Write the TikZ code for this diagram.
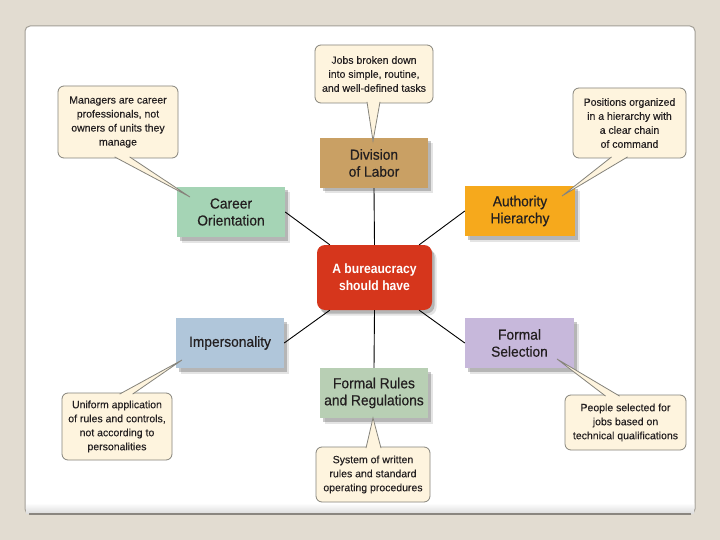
\documentclass[tikz,border=0pt]{standalone}
\usepackage{fontspec}
\setmainfont{Liberation Sans}
\newfontfamily\labelfont{Liberation Sans}[FakeBold=0.5,FakeStretch=0.95]
\newfontfamily\hubfont{Liberation Sans}[FakeStretch=0.9]
\newfontfamily\calfont{Liberation Sans}[FakeBold=0.25]
\usetikzlibrary{shadows,calc}
\definecolor{bgc}{HTML}{E2DCD1}
\definecolor{panelline}{HTML}{A29E96}
\definecolor{divc}{HTML}{C9A064}
\definecolor{carc}{HTML}{A5D4B5}
\definecolor{autc}{HTML}{F6A91C}
\definecolor{cenc}{HTML}{D6361C}
\definecolor{impc}{HTML}{B0C6DA}
\definecolor{selc}{HTML}{C7B8DB}
\definecolor{rulc}{HTML}{B8CFB4}
\definecolor{calfill}{HTML}{FEF4DE}
\definecolor{calline}{HTML}{85837B}
\definecolor{txt}{HTML}{231F20}
\tikzset{
  shade2/.style={drop shadow={shadow xshift=2.5pt,shadow yshift=-3.5pt,opacity=.30,fill=black!70},
                 drop shadow={shadow xshift=4.5pt,shadow yshift=-5.5pt,opacity=.15,fill=black!70}},
  box/.style={rectangle, shade2, minimum width=108, minimum height=50, inner sep=0pt,
              align=center, text=txt, font=\labelfont\fontsize{14.5}{17}\selectfont},
  hubbox/.style={rectangle, rounded corners=8pt, shade2, fill=cenc, minimum width=115, minimum height=65,
              inner sep=0pt, align=center, text=white, font=\hubfont\bfseries\fontsize{13.5}{17}\selectfont},
  callout/.style={rectangle, rounded corners=6pt, draw=calline, fill=calfill, line width=0.8pt,
              inner sep=0pt, align=center, text=txt, font=\calfont\fontsize{10.5}{14}\selectfont},
  tail/.style={draw=calline, fill=calfill, line width=0.8pt, line join=miter},
  conn/.style={draw=black, line width=0.9pt}
}
\begin{document}
\begin{tikzpicture}[x=1pt,y=-1pt]
\useasboundingbox (0,0) rectangle (720,540);
\fill[bgc] (0,0) rectangle (720,540);
% panel
\filldraw[fill=white, draw=panelline, line width=1pt, rounded corners=5pt] (25,26) rectangle (695,514);
\shade[top color=white, bottom color=black!13] (26,503) rectangle (694,513);
\draw[panelline!85!black, line width=2.5pt] (29,514) -- (691,514);

% boxes
\node[box, fill=divc] (div) at (374,163) {Division\\of Labor};
\node[box, fill=carc] (car) at (231,212) {Career\\Orientation};
\node[box, fill=autc, minimum width=110] (aut) at (520,211) {Authority\\Hierarchy};
\node[hubbox] (cen) at (374.5,277.5) {A bureaucracy\\should have};
\node[box, fill=impc] (imp) at (230,343) {Impersonality};
\node[box, fill=selc, minimum width=109] (sel) at (519.5,343) {Formal\\Selection};
\node[box, fill=rulc] (rul) at (374,393) {Formal Rules\\and Regulations};

% connectors
\draw[conn] (div.south) -- (cen.north);
\draw[conn] (cen.south) -- (rul.north);
\draw[conn] (car.east) -- ($(cen.north west)+(13,0)$);
\draw[conn] (aut.west) -- ($(cen.north east)+(-13,0)$);
\draw[conn] (imp.east) -- ($(cen.south west)+(13,0)$);
\draw[conn] (sel.west) -- ($(cen.south east)+(-13,0)$);

% callouts
\node[callout, minimum width=118, minimum height=58] (jobs) at (374,74) {Jobs broken down\\into simple, routine,\\and well-defined tasks};
\node[callout, minimum width=120, minimum height=72] (man) at (118,122) {Managers are career\\professionals, not\\owners of units they\\manage};
\node[callout, minimum width=113, minimum height=70] (pos) at (629.5,123) {Positions organized\\in a hierarchy with\\a clear chain\\of command};
\node[callout, minimum width=110, minimum height=67] (uni) at (117,426.5) {Uniform application\\of rules and controls,\\not according to\\personalities};
\node[callout, minimum width=121, minimum height=55] (peo) at (625.5,422.5) {People selected for\\jobs based on\\technical qualifications};
\node[callout, minimum width=114, minimum height=55] (sys) at (373,474.5) {System of written\\rules and standard\\operating procedures};

% tails
\coordinate (tjobs) at (373,141);
\coordinate (tman) at (190,197);
\coordinate (tpos) at (562,196);
\coordinate (tuni) at (182,360);
\coordinate (tpeo) at (557,359);
\coordinate (tsys) at (373,418);
\filldraw[tail] ($(jobs.south)+(-7,-1.5)$) -- (tjobs) -- ($(jobs.south)+(6,-1.5)$);
\filldraw[tail] ($(man.south west)+(57,-1.5)$) -- (tman) -- ($(man.south west)+(72,-1.5)$);
\filldraw[tail] ($(pos.south west)+(39,-1.5)$) -- (tpos) -- ($(pos.south west)+(55,-1.5)$);
\filldraw[tail] ($(uni.north west)+(58,1.5)$) -- (tuni) -- ($(uni.north west)+(71,1.5)$);
\filldraw[tail] ($(peo.north west)+(41,1.5)$) -- (tpeo) -- ($(peo.north west)+(55,1.5)$);
\filldraw[tail] ($(sys.north)+(-7,1.5)$) -- (tsys) -- ($(sys.north)+(8,1.5)$);
\end{tikzpicture}
\end{document}
